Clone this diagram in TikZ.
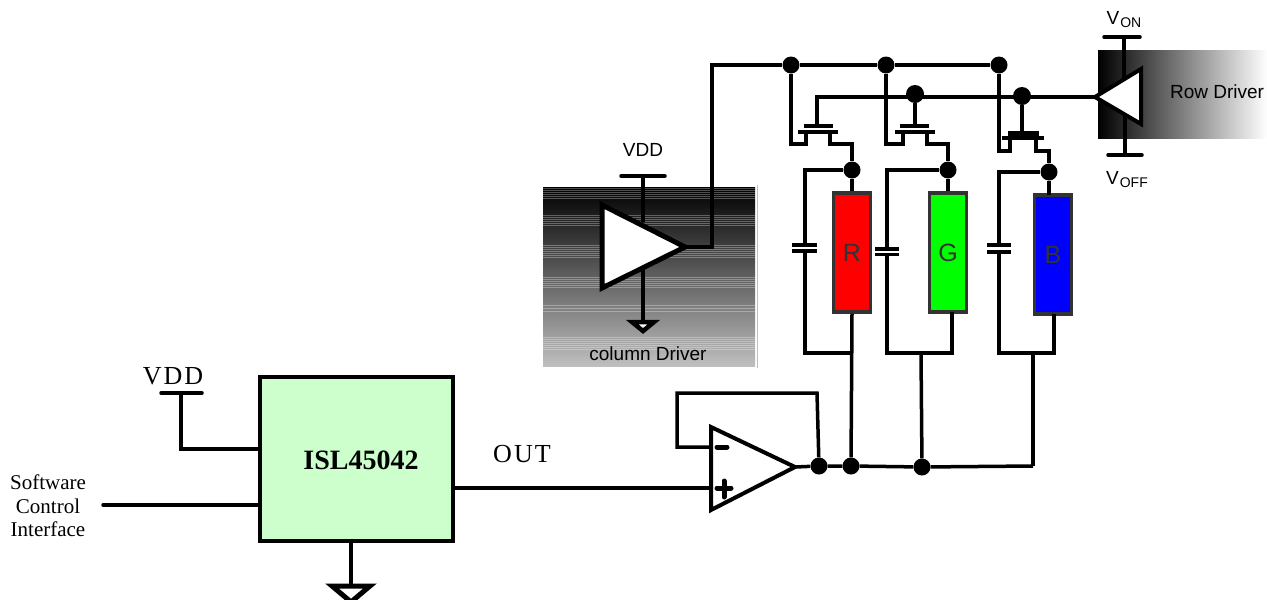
\documentclass[tikz,border=0pt]{standalone}
\usepackage{fontspec}
\setmainfont{Liberation Sans}
\newfontfamily\labelserif{Liberation Serif}
\definecolor{chipgreen}{HTML}{CCFFCC}
\definecolor{lededge}{HTML}{333333}
\tikzset{
  wire/.style={line width=3.5},
  plate/.style={line width=3.5},
  dot/.style={circle,fill=black,inner sep=0,minimum size=17},
  bigdot/.style={circle,fill=black,inner sep=0,minimum size=18},
  led/.style={draw=lededge,line width=3.5,text=lededge,minimum width=37,minimum height=119,inner sep=0,font=\fontsize{25}{25}\selectfont},
  driver/.style={line width=5,fill=white,line join=miter},
  opamp/.style={line width=4,fill=white,line join=miter},
  sanslabel/.style={inner sep=0,font=\fontsize{19}{22}\selectfont},
  seriflabel/.style={inner sep=0,align=center,font=\labelserif\fontsize{21}{23.5}\selectfont},
  biglabel/.style={inner sep=0,font=\labelserif\addfontfeature{LetterSpace=8}\fontsize{26}{26}\selectfont},
  bandline/.style={white,opacity=0.3,line width=0.7}
}
\begin{document}
\begin{tikzpicture}[x=1pt,y=-1pt]
\useasboundingbox (0,0) rectangle (1267,600);
\clip (0,0) rectangle (1267,600);

% Driver backgrounds
\shade[left color=black,right color=white] (1098,50) rectangle (1267,138);
\shade[top color=black,bottom color=black!25] (543,187) rectangle (755,366);
\foreach \y in {188,190,192,194,196,198,215,217,219,221,223,225,245,247,249,251,253,255,257,277,279,281,283,285,287,305,308,311,337,339,341,343,345,347,349}
  \draw[bandline] (543,\y) -- (755,\y);
\draw[gray!50,line width=1] (757,185) -- (757,368);

% Nodes on the buses
\node[dot] (busR) at (791,65) {};
\node[dot] (busG) at (886,65) {};
\node[dot] (busB) at (999,65) {};
\node[bigdot] (gateG) at (915,94) {};
\node[bigdot] (gateB) at (1022,96) {};
\node[dot] (dotR) at (852,170) {};
\node[dot] (dotG) at (948,170) {};
\node[dot] (dotB) at (1049,172) {};
\node[dot] (outA) at (819,466) {};
\node[dot] (outR) at (851,466) {};
\node[dot] (outG) at (922,467) {};

\node[led,fill=red] (ledR) at (852,252.5) {R};
\node[led,fill=green] (ledG) at (948,252.5) {G};
\node[led,fill=blue] (ledB) at (1053,254.5) {B};

\node[draw,line width=4,fill=chipgreen,minimum width=193,minimum height=164] (chip) at (356,458.5) {};
\node[inner sep=0,font=\labelserif\bfseries\fontsize{28}{28}\selectfont] (chiplabel) at (361,460) {ISL45042};

\path % Red FET
 (818,132) coordinate (fetR)
    +(-1,-6) coordinate (fetRg)
    +(-14,-6) coordinate (fetRgl)
    +(15,-6) coordinate (fetRgr)
    +(-20,0) coordinate (fetRcl)
    +(20,0) coordinate (fetRcr)
    +(-12,0) coordinate (fetRst)
    +(-12,12) coordinate (fetRs)
    +(12,0) coordinate (fetRdt)
    +(12,12) coordinate (fetRd)
    ;
\path % Green FET
 (915,132) coordinate (fetG)
    +(0,-6) coordinate (fetGg)
    +(-15,-6) coordinate (fetGgl)
    +(14,-6) coordinate (fetGgr)
    +(-20,0) coordinate (fetGcl)
    +(20,0) coordinate (fetGcr)
    +(-12,0) coordinate (fetGst)
    +(-12,12) coordinate (fetGs)
    +(12,0) coordinate (fetGdt)
    +(12,12) coordinate (fetGd)
    ;
\path % Blue FET
 (1023,138) coordinate (fetB)
    +(-1,-5) coordinate (fetBg)
    +(-15,-5) coordinate (fetBgl)
    +(16,-5) coordinate (fetBgr)
    +(-21,0) coordinate (fetBcl)
    +(21,0) coordinate (fetBcr)
    +(-13,0) coordinate (fetBst)
    +(-13,13) coordinate (fetBs)
    +(13,0) coordinate (fetBdt)
    +(13,13) coordinate (fetBd)
    ;

% Column driver and top bus
\path
 (602,205) coordinate (coltop)
 (602,288) coordinate (colbot)
 (685,247) coordinate (coltip)
 (712,247) coordinate (colout)
 (712,65) coordinate (colup)
 (643,176) coordinate (colvdd)
 (621,176) coordinate (colvddl)
 (665,176) coordinate (colvddr)
 (643,222) coordinate (colvin)
 (643,268) coordinate (colgin)
 (643,322) coordinate (colgnd)
 (632,322) coordinate (colgl)
 (654,322) coordinate (colgr)
 (643,331) coordinate (colga)
 ;
\draw[wire,line cap=round] (colvddl) -- (colvddr);
\draw[wire] (colvdd) -- (colvin);
\draw[wire] (colgin) -- (colgnd);
\draw[line width=4.5,line join=miter,fill=white] (colgl) -- (colgr) -- (colga) -- cycle;
\draw[wire] (coltip) -- (colout) -- (colup) -- (busR);
\draw[driver] (coltop) -- (coltip) -- (colbot) -- cycle;
\node[sanslabel] (colvddlabel) at (643,150) {VDD};
\node[sanslabel] (collabel) at (648,354) {column Driver};
\draw[wire] (busR) -- (busG) -- (busB);

% Row driver
\path
 (1095,97) coordinate (rowtip)
 (1141,69) coordinate (rowtop)
 (1141,124) coordinate (rowbot)
 (817,97) coordinate (rowend)
 (1124,37) coordinate (rowon)
 (1104,37) coordinate (rowonl)
 (1140,37) coordinate (rowonr)
 (1124,82) coordinate (rowonin)
 (1125,155) coordinate (rowoff)
 (1108,155) coordinate (rowoffl)
 (1142,155) coordinate (rowoffr)
 (1125,114) coordinate (rowoffin)
 ;
\draw[wire,line cap=round] (rowonl) -- (rowonr);
\draw[wire,line cap=round] (rowoffl) -- (rowoffr);
\draw[wire] (rowon) -- (rowonin);
\draw[wire] (rowoff) -- (rowoffin);
\draw[wire] (fetRg) -- (fetRg |- rowend) -- (gateG |- rowend) -- (rowtip);
\draw[driver,line width=4] (rowtip) -- (rowtop) -- (rowbot) -- cycle;
\node[sanslabel] (vonlabel) at (1124,20) {V\kern1pt\raisebox{-3pt}{\fontsize{14}{14}\selectfont ON}};
\node[sanslabel] (vofflabel) at (1127,180) {V\kern1pt\raisebox{-3pt}{\fontsize{14}{14}\selectfont OFF}};
\node[sanslabel] (rowlabel) at (1217,92) {Row Driver};

% FETs
\draw[plate] (fetRgl) -- (fetRgr);
\draw[plate] (fetRcl) -- (fetRcr);
\draw[wire] (busR) |- (fetRs) -- (fetRst);
\draw[wire] (fetRdt) -- (fetRd) -| (dotR);
\draw[plate] (fetGgl) -- (fetGgr);
\draw[plate] (fetGcl) -- (fetGcr);
\draw[wire] (gateG) -- (fetGg);
\draw[wire] (busG) |- (fetGs) -- (fetGst);
\draw[wire] (fetGdt) -- (fetGd) -| (dotG);
\draw[line width=5] (fetBgl) -- (fetBgr);
\draw[plate] (fetBcl) -- (fetBcr);
\draw[wire] (gateB) -- (fetBg);
\draw[wire] (busB) |- (fetBs) -- (fetBst);
\draw[wire] (fetBdt) -- (fetBd) -| (dotB);

\path % Capacitors and lower joints
 (805,245) coordinate (capRa)
 (805,251) coordinate (capRb)
 (792,245) coordinate (capRal)
 (817,245) coordinate (capRar)
 (792,251) coordinate (capRbl)
 (817,251) coordinate (capRbr)
 (851,353) coordinate (botR)
 (887,249) coordinate (capGa)
 (887,254.5) coordinate (capGb)
 (875,249) coordinate (capGal)
 (899,249) coordinate (capGar)
 (875,254.5) coordinate (capGbl)
 (899,254.5) coordinate (capGbr)
 (952,353) coordinate (botG)
 (999,245) coordinate (capBa)
 (999,252) coordinate (capBb)
 (987,245) coordinate (capBal)
 (1011,245) coordinate (capBar)
 (987,252) coordinate (capBbl)
 (1011,252) coordinate (capBbr)
 (1054,353) coordinate (botB)
 (952,312) coordinate (ledGout)
 (1054,314) coordinate (ledBout)
 (1049,195) coordinate (ledBin)
 (1033,353) coordinate (jointB)
 (921,353) coordinate (jointG)
 (1033,466) coordinate (outB)
 ;
\draw[wire] (dotR) -| (capRa);
\draw[wire] (dotG) -| (capGa);
\draw[wire] (dotB) -| (capBa);
\draw[plate] (capRal) -- (capRar);
\draw[plate] (capRbl) -- (capRbr);
\draw[plate] (capGal) -- (capGar);
\draw[plate] (capGbl) -- (capGbr);
\draw[plate] (capBal) -- (capBar);
\draw[plate] (capBbl) -- (capBbr);
\draw[wire] (capRb) |- (botR);
\draw[wire] (capGb) |- (botG) -- (ledGout);
\draw[wire] (capBb) |- (botB) -- (ledBout);
\draw[wire] (dotR) -- (ledR.north);
\draw[wire] (dotG) -- (ledG.north);
\draw[wire] (dotB) -- (ledBin);
\draw[wire] (ledR.south) -- (outR);
\draw[wire] (jointG) -- (outG);
\draw[wire] (jointB) -- (outB);

% Output amplifier
\path
 (711,427) coordinate (amptop)
 (711,510) coordinate (ampbot)
 (795,467) coordinate (amptip)
 (711,447) coordinate (ampminus)
 (711,488) coordinate (ampplus)
 (677,393) coordinate (fbleft)
 (817,393) coordinate (fbright)
 (717,447) coordinate (minusl)
 (727,447) coordinate (minusr)
 (717,488) coordinate (plusl)
 (731,488) coordinate (plusr)
 (724,481) coordinate (plust)
 (724,497) coordinate (plusb)
 ;
\draw[wire] (amptip) -- (outA) -- (outR) -- (outG) -- (outB);
\draw[wire] (ampminus) -| (fbleft) -- (fbright) -- (outA);
\draw[wire] (chip.east |- ampplus) -- (ampplus);
\draw[opamp] (amptop) -- (amptip) -- (ampbot) -- cycle;
\draw[line width=5,line cap=round] (minusl) -- (minusr);
\draw[line width=5,line cap=round] (plusl) -- (plusr);
\draw[line width=5,line cap=round] (plust) -- (plusb);
\node[biglabel] (outlabel) at (522,454) {OUT};

% Chip connections
\path
 (181,393) coordinate (vddbar)
 (161,393) coordinate (vddl)
 (202,393) coordinate (vddr)
 (181,449) coordinate (vddin)
 (103,505) coordinate (swend)
 (351,585) coordinate (gndtop)
 (332,586) coordinate (gndl)
 (370,586) coordinate (gndr)
 (351,602) coordinate (gnda)
 ;
\draw[wire,line cap=round] (vddl) -- (vddr);
\draw[wire] (vddbar) |- (chip.west |- vddin);
\draw[wire,line cap=round] (swend) -- (chip.west |- swend);
\draw[wire] (chip.south -| gndtop) -- (gndtop);
\draw[line width=5,line join=miter,fill=white] (gndl) -- (gndr) -- (gnda) -- cycle;
\node[biglabel] (vddlabel) at (173,376) {VDD};
\node[seriflabel] (swlabel) at (48,506) {Software\\Control\\Interface};

\end{tikzpicture}
\end{document}
